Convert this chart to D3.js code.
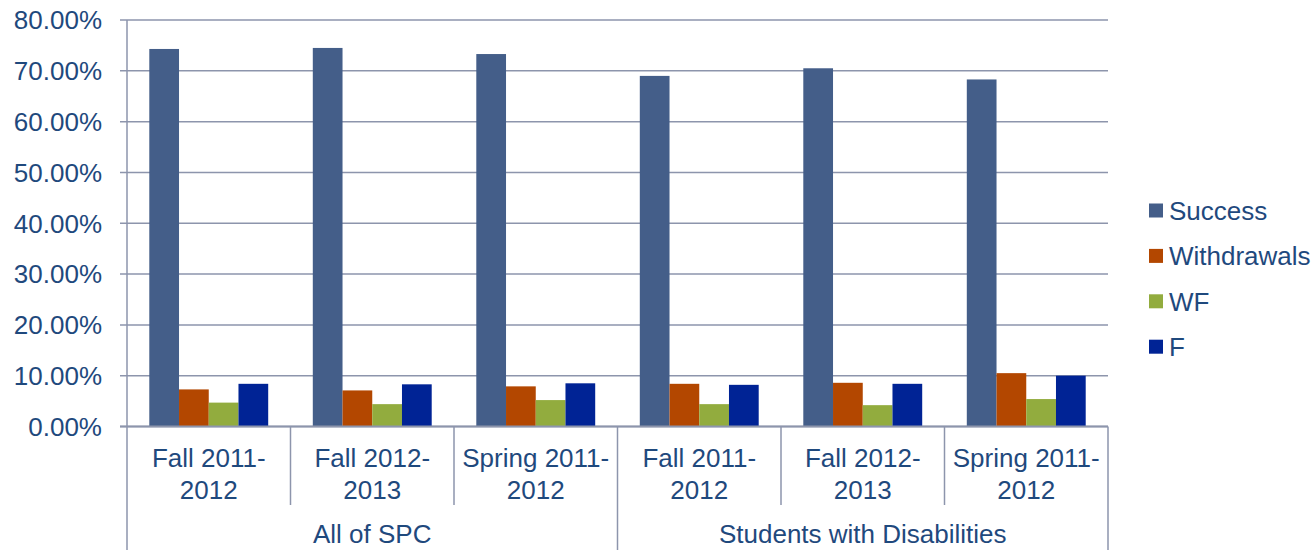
<!DOCTYPE html>
<html>
<head>
<meta charset="utf-8">
<script src="https://cdn.jsdelivr.net/npm/d3@7"></script>
<style>
  body { margin: 0; background: #fff; }
  text { font-family: "Liberation Sans", Arial, sans-serif; fill: #1F497D; }
</style>
</head>
<body>
<svg width="1316" height="550"></svg>
<script>
const groups = ['All of SPC', 'Students with Disabilities']
const terms = [['Fall 2011-', '2012'], ['Fall 2012-', '2013'], ['Spring 2011-', '2012']]
const series = ['Success', 'Withdrawals', 'WF', 'F']
const colors = ['#445E89', '#B34700', '#92AC3E', '#002395']
const success = [74.3, 74.5, 73.3, 69.0, 70.5, 68.3]
const withdrawals = [7.3, 7.1, 7.9, 8.4, 8.6, 10.5]
const wf = [4.7, 4.4, 5.2, 4.4, 4.2, 5.4]
const fail = [8.4, 8.3, 8.5, 8.2, 8.4, 10.0]
const yTicks = [0, 10, 20, 30, 40, 50, 60, 70, 80]

const svg = d3.select('svg')
const gridCol = '#8D95AC'

const cats = d3.range(groups.length * terms.length)
const rows = cats.map(i => [success[i], withdrawals[i], wf[i], fail[i]])

const x0 = d3.scaleBand()
    .domain(cats)
    .range([127, 1108])

const x1 = d3.scaleBand()
    .domain(series)
    .range([0, x0.bandwidth()])
    .paddingOuter(0.75)

const y = d3.scaleLinear()
    .domain([0, 80])
    .range([426.5, 20])

// gridlines + y ticks
svg.append('g').selectAll('line')
  .data(yTicks)
  .join('line')
    .attr('x1', 120).attr('x2', 1108)
    .attr('y1', d => y(d)).attr('y2', d => y(d))
    .attr('stroke', gridCol).attr('stroke-width', 1.5)

svg.append('g').selectAll('text')
  .data(yTicks)
  .join('text')
    .attr('x', 102)
    .attr('y', d => y(d))
    .attr('dy', '0.36em')
    .attr('text-anchor', 'end')
    .attr('font-size', 26)
    .text(d => d.toFixed(2) + '%')

// bars
svg.append('g').selectAll('g')
  .data(rows)
  .join('g')
    .attr('transform', (d, i) => `translate(${x0(i)},0)`)
  .selectAll('rect')
  .data(d => d.map((v, j) => ({ key: series[j], val: v, j })))
  .join('rect')
    .attr('x', d => x1(d.key))
    .attr('width', x1.bandwidth())
    .attr('y', d => y(d.val))
    .attr('height', d => y(0) - y(d.val))
    .attr('fill', d => colors[d.j])

// axes lines
svg.append('line')
    .attr('x1', 127).attr('x2', 127).attr('y1', 20).attr('y2', 550)
    .attr('stroke', gridCol).attr('stroke-width', 1.5)
svg.append('line')
    .attr('x1', 120).attr('x2', 1108).attr('y1', y(0)).attr('y2', y(0))
    .attr('stroke', gridCol).attr('stroke-width', 2)

// category separators
cats.slice(1).forEach(i => {
  const long = i % terms.length === 0
  svg.append('line')
      .attr('x1', x0(i)).attr('x2', x0(i))
      .attr('y1', y(0)).attr('y2', long ? 550 : 505)
      .attr('stroke', gridCol).attr('stroke-width', 1.5)
})
svg.append('line')
    .attr('x1', 1108).attr('x2', 1108).attr('y1', y(0)).attr('y2', 550)
    .attr('stroke', gridCol).attr('stroke-width', 1.5)

// category labels
cats.forEach(i => {
  const t = terms[i % terms.length]
  const cx = x0(i) + x0.bandwidth() / 2
  t.forEach((s, k) => {
    svg.append('text')
        .attr('x', cx).attr('y', 467 + k * 31.5)
        .attr('text-anchor', 'middle')
        .attr('font-size', 26)
        .text(s)
  })
})

groups.forEach((g, gi) => {
  const a = x0(gi * terms.length)
  const b = x0(gi * terms.length + terms.length - 1) + x0.bandwidth()
  svg.append('text')
      .attr('x', (a + b) / 2).attr('y', 543)
      .attr('text-anchor', 'middle')
      .attr('font-size', 26)
      .text(g)
})

// legend
const leg = svg.append('g').selectAll('g')
  .data(series)
  .join('g')
    .attr('transform', (d, i) => `translate(1149,${210.5 + i * 45.4})`)
leg.append('rect')
    .attr('x', 0).attr('y', -7).attr('width', 14).attr('height', 14)
    .attr('fill', (d, i) => colors[i])
leg.append('text')
    .attr('x', 20).attr('dy', '0.36em')
    .attr('font-size', 26)
    .text(d => d)
</script>
</body>
</html>
